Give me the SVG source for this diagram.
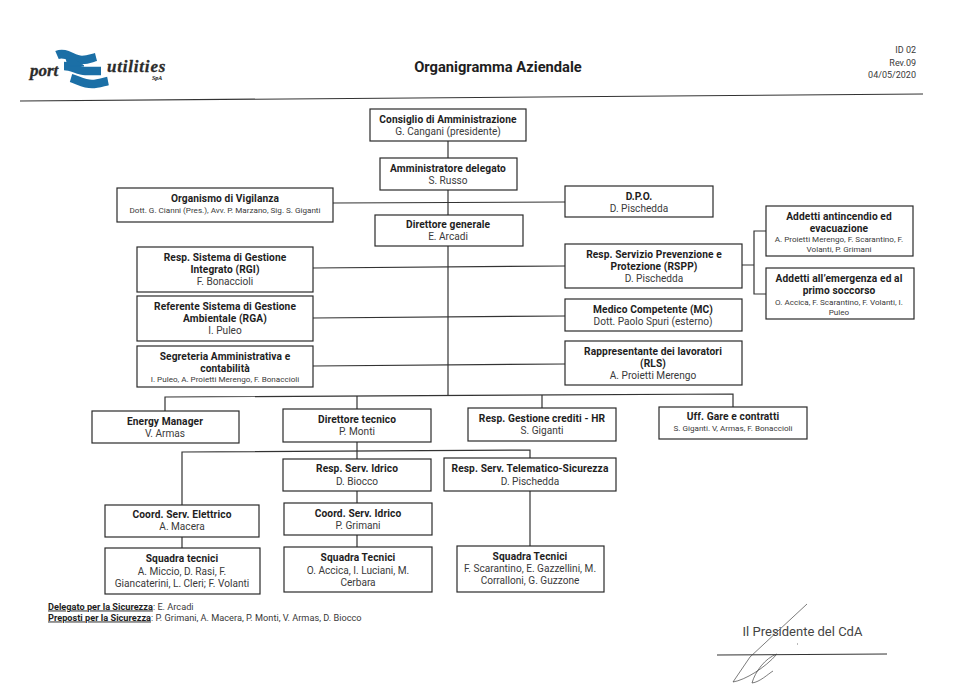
<svg xmlns="http://www.w3.org/2000/svg" width="955" height="693" viewBox="0 0 955 693">
<style>
text{font-family:Roboto,"Open Sans","Liberation Sans",sans-serif;text-anchor:middle;fill:#3a3a3a;font-size:10.1px}
.b{font-weight:700;fill:#1e1e1e;font-size:10.2px;letter-spacing:.1px}
.s{font-size:8.1px}
.l{text-anchor:start;font-size:9.2px}
.r{text-anchor:end;font-size:9px}
.u{font-weight:700;text-decoration:underline;fill:#1e1e1e}
.logo{font-family:"Liberation Serif",serif;font-weight:700;font-style:italic;fill:#2b2b2b;text-anchor:start;stroke:#2b2b2b;stroke-width:.3}
rect{fill:#fff;stroke:#2a2a2a;stroke-width:1.2}
#connectors path{fill:none;stroke:#333;stroke-width:1.2}
#mark path{fill:none;stroke:#1b6fa6;stroke-width:8.5}
</style>
<g id="logo">
<g id="mark">
<path d="M57 55C66 51 73 60 82 60C88 60 92 58 96 57"/>
<path d="M64 66C72 66 78 71 85 71C92 71 97 71 101 71"/>
<path d="M71 78C78 80 84 84 92 84C98 84 103 82 108 81"/>
<path d="M66 58L76 60L84 66L68 66Z" style="fill:#1b6fa6;stroke-width:1"/>
</g>
<text class="logo" x="30" y="76" style="font-size:17px">port</text>
<text class="logo" x="107" y="72" style="font-size:17px;letter-spacing:.8px">utilities</text>
<text class="logo" x="152" y="80" style="font-size:6px;stroke-width:.1">SpA</text>
</g>
<g id="header">
<path d="M20 101L923 94" stroke="#333" stroke-width="1.1" fill="none"/>
<text x="498" y="72" style="font-weight:700;font-size:14.7px;fill:#1e1e1e">Organigramma Aziendale</text>
<text class="r" x="916" y="53">ID 02</text>
<text class="r" x="916" y="66">Rev.09</text>
<text class="r" x="916" y="78">04/05/2020</text>
</g>
<g id="connectors">
<path d="M448 141V396"/>
<path d="M333 203L565 202"/>
<path d="M313 268L565 266"/>
<path d="M313 318L565 316"/>
<path d="M313 366L565 364"/>
<path d="M165 411V397L733 394V407"/>
<path d="M357 396V409"/>
<path d="M542 395V408"/>
<path d="M742 265H754M766 231H754V294H766"/>
<path d="M357 442V459"/>
<path d="M182 505V452L530 450V458"/>
<path d="M357 491V503M357 535V547"/>
<path d="M182 537V548"/>
<path d="M530 491V546"/>
</g>
<g id="n1"><rect x="370" y="109" width="156" height="32"/><text class="b" x="448" y="122.5">Consiglio di Amministrazione</text><text x="448" y="135">G. Cangani (presidente)</text></g>
<g id="n2"><rect x="380" y="158" width="137" height="32"/><text class="b" x="448" y="171.5">Amministratore delegato</text><text x="448" y="184">S. Russo</text></g>
<g id="n3"><rect x="117" y="188" width="216" height="34"/><text class="b" x="225" y="202">Organismo di Vigilanza</text><text class="s" x="225" y="213">Dott. G. Cianni (Pres.), Avv. P. Marzano, Sig. S. Giganti</text></g>
<g id="n4"><rect x="375" y="215" width="148" height="31"/><text class="b" x="448" y="228">Direttore generale</text><text x="448" y="240">E. Arcadi</text></g>
<g id="n5"><rect x="565" y="186" width="148" height="31"/><text class="b" x="639" y="199.5">D.P.O.</text><text x="639" y="211.5">D. Pischedda</text></g>
<g id="n6"><rect x="137" y="247" width="176" height="45"/><text class="b" x="225" y="261">Resp. Sistema di Gestione</text><text class="b" x="225" y="273">Integrato (RGI)</text><text x="225" y="285">F. Bonaccioli</text></g>
<g id="n7"><rect x="137" y="296" width="176" height="45"/><text class="b" x="225" y="309.5">Referente Sistema di Gestione</text><text class="b" x="225" y="321.5">Ambientale (RGA)</text><text x="225" y="334">I. Puleo</text></g>
<g id="n8"><rect x="137" y="346" width="176" height="41"/><text class="b" x="225" y="360">Segreteria Amministrativa e</text><text class="b" x="225" y="372">contabilità</text><text class="s" x="225" y="382">I. Puleo, A. Proietti Merengo, F. Bonaccioli</text></g>
<g id="n9"><rect x="565" y="244" width="177" height="44"/><text class="b" x="654" y="258">Resp. Servizio Prevenzione e</text><text class="b" x="654" y="270">Protezione (RSPP)</text><text x="654" y="282">D. Pischedda</text></g>
<g id="n10"><rect x="565" y="299" width="177" height="32"/><text class="b" x="653" y="313">Medico Competente (MC)</text><text x="653" y="325">Dott. Paolo Spuri (esterno)</text></g>
<g id="n11"><rect x="565" y="341" width="177" height="44"/><text class="b" x="653" y="355">Rappresentante dei lavoratori</text><text class="b" x="653" y="367">(RLS)</text><text x="653" y="379">A. Proietti Merengo</text></g>
<g id="n12"><rect x="766" y="206" width="147" height="50"/><text class="b" x="839" y="219.5">Addetti antincendio ed</text><text class="b" x="839" y="231.5">evacuazione</text><text class="s" x="839" y="242">A. Proietti Merengo, F. Scarantino, F.</text><text class="s" x="839" y="252">Volanti, P. Grimani</text></g>
<g id="n13"><rect x="766" y="268" width="148" height="51"/><text class="b" x="839" y="282">Addetti all’emergenza ed al</text><text class="b" x="839" y="294">primo soccorso</text><text class="s" x="839" y="304.5">O. Accica, F. Scarantino, F. Volanti, I.</text><text class="s" x="839" y="314.5">Puleo</text></g>
<g id="n14"><rect x="92" y="411" width="147" height="32"/><text class="b" x="165" y="425">Energy Manager</text><text x="165" y="437">V. Armas</text></g>
<g id="n15"><rect x="283" y="409" width="148" height="33"/><text class="b" x="357" y="423">Direttore tecnico</text><text x="357" y="435">P. Monti</text></g>
<g id="n16"><rect x="468" y="408" width="148" height="33"/><text class="b" x="542" y="422">Resp. Gestione crediti - HR</text><text x="542" y="434">S. Giganti</text></g>
<g id="n17"><rect x="659" y="407" width="148" height="32"/><text class="b" x="733" y="420">Uff. Gare e contratti</text><text class="s" x="733" y="431">S. Giganti. V, Armas, F. Bonaccioli</text></g>
<g id="n18"><rect x="283" y="459" width="148" height="32"/><text class="b" x="357" y="472">Resp. Serv. Idrico</text><text x="357" y="485">D. Biocco</text></g>
<g id="n19"><rect x="444" y="458" width="172" height="33"/><text class="b" x="530" y="472">Resp. Serv. Telematico-Sicurezza</text><text x="530" y="485">D. Pischedda</text></g>
<g id="n20"><rect x="105" y="505" width="154" height="32"/><text class="b" x="182" y="518">Coord. Serv. Elettrico</text><text x="182" y="530">A. Macera</text></g>
<g id="n21"><rect x="284" y="503" width="148" height="32"/><text class="b" x="358" y="517">Coord. Serv. Idrico</text><text x="358" y="529">P. Grimani</text></g>
<g id="n22"><rect x="105" y="548" width="155" height="46"/><text class="b" x="182" y="562">Squadra tecnici</text><text x="182" y="575">A. Miccio, D. Rasi, F.</text><text x="182" y="587">Giancaterini, L. Cleri; F. Volanti</text></g>
<g id="n23"><rect x="284" y="547" width="148" height="45"/><text class="b" x="358" y="561">Squadra Tecnici</text><text x="358" y="574">O. Accica, I. Luciani, M.</text><text x="358" y="586">Cerbara</text></g>
<g id="n24"><rect x="457" y="546" width="147" height="46"/><text class="b" x="530" y="560">Squadra Tecnici</text><text x="530" y="572">F. Scarantino, E. Gazzellini, M.</text><text x="530" y="584">Corralloni, G. Guzzone</text></g>
<g id="footer">
<text class="l" x="48" y="609.5"><tspan class="u">Delegato per la Sicurezza</tspan>: E. Arcadi</text>
<text class="l" x="48" y="620.5"><tspan class="u">Preposti per la Sicurezza</tspan>: P. Grimani, A. Macera, P. Monti, V. Armas, D. Biocco</text>
</g>
<g id="signature">
<text x="802.5" y="636" style="font-size:13px;fill:#444">Il Presidente del CdA</text>
<path d="M717 655L887 654" stroke="#333" stroke-width="1.1" fill="none"/>
<path d="M807 604L750 657L733 682C745 680 765 668 777 654C765 658 755 672 752 683C760 682 768 674 773 671" stroke="#444" stroke-width=".7" fill="none"/>
<path d="M797 644h.8" stroke="#555" stroke-width="1" fill="none"/>
</g>
</svg>
